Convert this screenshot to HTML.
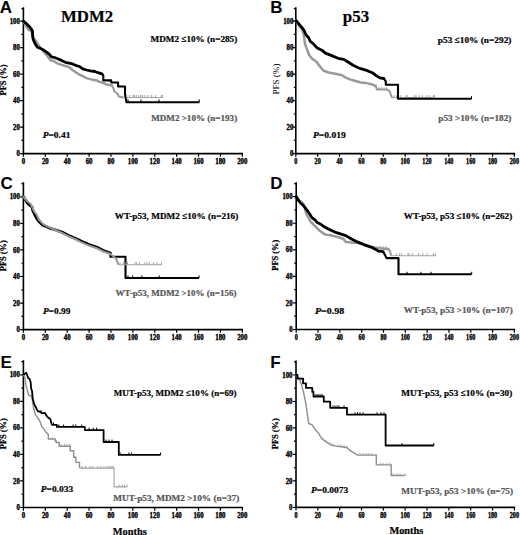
<!DOCTYPE html>
<html><head><meta charset="utf-8"><style>
html,body{margin:0;padding:0;background:#fff;}
svg{display:block;}
.ax{fill:none;stroke:#000;stroke-width:1.6;stroke-linecap:square;}
.tk{fill:none;stroke:#000;stroke-width:1.2;}
text{font-family:"Liberation Serif", serif;font-weight:bold;}
.yl{font-size:7.2px;text-anchor:end;stroke:#000;stroke-width:0.35px;}
.xl{font-size:7.2px;text-anchor:middle;stroke:#000;stroke-width:0.35px;}
.pl{font-family:"Liberation Sans", sans-serif;font-size:17px;}
.tt{font-size:16px;stroke:#000;stroke-width:0.2px;}
.lb{font-size:9px;fill:#000;stroke:#000;stroke-width:0.2px;}
.lg{font-size:9px;fill:#555;stroke:#555;stroke-width:0.2px;}
.pv{font-size:9px;stroke:#000;stroke-width:0.2px;}
.ylab{font-size:8px;text-anchor:middle;stroke:#000;stroke-width:0.25px;}
.ylabr{font-size:8px;text-anchor:middle;font-weight:normal;}
.mo{font-size:10px;stroke:#000;stroke-width:0.2px;}
.cb{fill:none;stroke:#000;stroke-width:2.1;stroke-linejoin:round;}
.cbs{fill:none;stroke:#000;stroke-width:2.8;stroke-linejoin:round;stroke-linecap:round;}
.cgs{fill:none;stroke:#9a9a9a;stroke-width:2.5;stroke-linejoin:round;stroke-linecap:round;}
.cgsC{fill:none;stroke:#9a9a9a;stroke-width:2.0;stroke-linejoin:round;stroke-linecap:round;}
.cb2{fill:none;stroke:#000;stroke-width:1.8;stroke-linejoin:round;}
.ct{fill:none;stroke:#000;stroke-width:1;}
.ctg{fill:none;stroke:#999;stroke-width:0.9;}
.cgt{fill:none;stroke:#8e8e8e;stroke-width:1.4;}
.cg{fill:none;stroke:#9a9a9a;stroke-width:2.0;stroke-linejoin:round;}
.cgd{fill:none;stroke:#a4a4a4;stroke-width:1.1;}
</style></head><body>
<svg width="520" height="535" viewBox="0 0 520 535">
<path d="M23.4 8V153.65H242.3" class="ax"/>
<path d="M20.2 153.65H23.4M21.4 140.41H23.4M20.2 127.16H23.4M21.4 113.91H23.4M20.2 100.67H23.4M21.4 87.42H23.4M20.2 74.18H23.4M21.4 60.93H23.4M20.2 47.69H23.4M21.4 34.44H23.4M20.2 21.2H23.4M21.4 8.6H23.4M23.4 153.65V156.85M45.29 153.65V156.85M67.18 153.65V156.85M89.07 153.65V156.85M110.96 153.65V156.85M132.85 153.65V156.85M154.74 153.65V156.85M176.63 153.65V156.85M198.52 153.65V156.85M220.41 153.65V156.85M242.3 153.65V156.85" class="tk"/>
<text transform="translate(19.9 156.25) scale(0.95 1)" class="yl">0</text>
<text transform="translate(19.9 129.76) scale(0.95 1)" class="yl">20</text>
<text transform="translate(19.9 103.27) scale(0.95 1)" class="yl">40</text>
<text transform="translate(19.9 76.78) scale(0.95 1)" class="yl">60</text>
<text transform="translate(19.9 50.29) scale(0.95 1)" class="yl">80</text>
<text transform="translate(19.9 23.8) scale(0.95 1)" class="yl">100</text>
<text transform="translate(23.4 163.75) scale(0.95 1)" class="xl">0</text>
<text transform="translate(45.29 163.75) scale(0.95 1)" class="xl">20</text>
<text transform="translate(67.18 163.75) scale(0.95 1)" class="xl">40</text>
<text transform="translate(89.07 163.75) scale(0.95 1)" class="xl">60</text>
<text transform="translate(110.96 163.75) scale(0.95 1)" class="xl">80</text>
<text transform="translate(132.85 163.75) scale(0.95 1)" class="xl">100</text>
<text transform="translate(154.74 163.75) scale(0.95 1)" class="xl">120</text>
<text transform="translate(176.63 163.75) scale(0.95 1)" class="xl">140</text>
<text transform="translate(198.52 163.75) scale(0.95 1)" class="xl">160</text>
<text transform="translate(220.41 163.75) scale(0.95 1)" class="xl">180</text>
<text transform="translate(242.3 163.75) scale(0.95 1)" class="xl">200</text>
<path d="M295.8 8V153.65H514.4" class="ax"/>
<path d="M292.6 153.65H295.8M293.8 140.4H295.8M292.6 127.14H295.8M293.8 113.88H295.8M292.6 100.63H295.8M293.8 87.38H295.8M292.6 74.12H295.8M293.8 60.87H295.8M292.6 47.61H295.8M293.8 34.35H295.8M292.6 21.1H295.8M293.8 8.6H295.8M295.8 153.65V156.85M317.66 153.65V156.85M339.52 153.65V156.85M361.38 153.65V156.85M383.24 153.65V156.85M405.1 153.65V156.85M426.96 153.65V156.85M448.82 153.65V156.85M470.68 153.65V156.85M492.54 153.65V156.85M514.4 153.65V156.85" class="tk"/>
<text transform="translate(293.4 156.25) scale(0.95 1)" class="yl">0</text>
<text transform="translate(293.4 129.74) scale(0.95 1)" class="yl">20</text>
<text transform="translate(293.4 103.23) scale(0.95 1)" class="yl">40</text>
<text transform="translate(293.4 76.72) scale(0.95 1)" class="yl">60</text>
<text transform="translate(293.4 50.21) scale(0.95 1)" class="yl">80</text>
<text transform="translate(293.4 23.7) scale(0.95 1)" class="yl">100</text>
<text transform="translate(295.8 163.75) scale(0.86 1)" class="xl">0</text>
<text transform="translate(317.66 163.75) scale(0.86 1)" class="xl">20</text>
<text transform="translate(339.52 163.75) scale(0.86 1)" class="xl">40</text>
<text transform="translate(361.38 163.75) scale(0.86 1)" class="xl">60</text>
<text transform="translate(383.24 163.75) scale(0.86 1)" class="xl">80</text>
<text transform="translate(405.1 163.75) scale(0.86 1)" class="xl">100</text>
<text transform="translate(426.96 163.75) scale(0.86 1)" class="xl">120</text>
<text transform="translate(448.82 163.75) scale(0.86 1)" class="xl">140</text>
<text transform="translate(470.68 163.75) scale(0.86 1)" class="xl">160</text>
<text transform="translate(492.54 163.75) scale(0.86 1)" class="xl">180</text>
<text transform="translate(514.4 163.75) scale(0.86 1)" class="xl">200</text>
<path d="M23.4 183V329.65H242.3" class="ax"/>
<path d="M20.2 329.65H23.4M21.4 316.37H23.4M20.2 303.08H23.4M21.4 289.79H23.4M20.2 276.51H23.4M21.4 263.23H23.4M20.2 249.94H23.4M21.4 236.66H23.4M20.2 223.37H23.4M21.4 210.09H23.4M20.2 196.8H23.4M21.4 183.6H23.4M23.4 329.65V332.85M45.29 329.65V332.85M67.18 329.65V332.85M89.07 329.65V332.85M110.96 329.65V332.85M132.85 329.65V332.85M154.74 329.65V332.85M176.63 329.65V332.85M198.52 329.65V332.85M220.41 329.65V332.85M242.3 329.65V332.85" class="tk"/>
<text transform="translate(19.9 332.25) scale(0.95 1)" class="yl">0</text>
<text transform="translate(19.9 305.68) scale(0.95 1)" class="yl">20</text>
<text transform="translate(19.9 279.11) scale(0.95 1)" class="yl">40</text>
<text transform="translate(19.9 252.54) scale(0.95 1)" class="yl">60</text>
<text transform="translate(19.9 225.97) scale(0.95 1)" class="yl">80</text>
<text transform="translate(19.9 199.4) scale(0.95 1)" class="yl">100</text>
<text transform="translate(23.4 339.75) scale(0.95 1)" class="xl">0</text>
<text transform="translate(45.29 339.75) scale(0.95 1)" class="xl">20</text>
<text transform="translate(67.18 339.75) scale(0.95 1)" class="xl">40</text>
<text transform="translate(89.07 339.75) scale(0.95 1)" class="xl">60</text>
<text transform="translate(110.96 339.75) scale(0.95 1)" class="xl">80</text>
<text transform="translate(132.85 339.75) scale(0.95 1)" class="xl">100</text>
<text transform="translate(154.74 339.75) scale(0.95 1)" class="xl">120</text>
<text transform="translate(176.63 339.75) scale(0.95 1)" class="xl">140</text>
<text transform="translate(198.52 339.75) scale(0.95 1)" class="xl">160</text>
<text transform="translate(220.41 339.75) scale(0.95 1)" class="xl">180</text>
<text transform="translate(242.3 339.75) scale(0.95 1)" class="xl">200</text>
<path d="M296.2 183V329.5H514.4" class="ax"/>
<path d="M293 329.5H296.2M294.2 316.22H296.2M293 302.94H296.2M294.2 289.66H296.2M293 276.38H296.2M294.2 263.1H296.2M293 249.82H296.2M294.2 236.54H296.2M293 223.26H296.2M294.2 209.98H296.2M293 196.7H296.2M294.2 183.6H296.2M296.2 329.5V332.7M318.02 329.5V332.7M339.84 329.5V332.7M361.66 329.5V332.7M383.48 329.5V332.7M405.3 329.5V332.7M427.12 329.5V332.7M448.94 329.5V332.7M470.76 329.5V332.7M492.58 329.5V332.7M514.4 329.5V332.7" class="tk"/>
<text transform="translate(292.7 332.1) scale(0.95 1)" class="yl">0</text>
<text transform="translate(292.7 305.54) scale(0.95 1)" class="yl">20</text>
<text transform="translate(292.7 278.98) scale(0.95 1)" class="yl">40</text>
<text transform="translate(292.7 252.42) scale(0.95 1)" class="yl">60</text>
<text transform="translate(292.7 225.86) scale(0.95 1)" class="yl">80</text>
<text transform="translate(292.7 199.3) scale(0.95 1)" class="yl">100</text>
<text transform="translate(296.2 339.6) scale(0.86 1)" class="xl">0</text>
<text transform="translate(318.02 339.6) scale(0.86 1)" class="xl">20</text>
<text transform="translate(339.84 339.6) scale(0.86 1)" class="xl">40</text>
<text transform="translate(361.66 339.6) scale(0.86 1)" class="xl">60</text>
<text transform="translate(383.48 339.6) scale(0.86 1)" class="xl">80</text>
<text transform="translate(405.3 339.6) scale(0.86 1)" class="xl">100</text>
<text transform="translate(427.12 339.6) scale(0.86 1)" class="xl">120</text>
<text transform="translate(448.94 339.6) scale(0.86 1)" class="xl">140</text>
<text transform="translate(470.76 339.6) scale(0.86 1)" class="xl">160</text>
<text transform="translate(492.58 339.6) scale(0.86 1)" class="xl">180</text>
<text transform="translate(514.4 339.6) scale(0.86 1)" class="xl">200</text>
<path d="M23.4 361V507.5H242.3" class="ax"/>
<path d="M20.2 507.5H23.4M21.4 494.23H23.4M20.2 480.96H23.4M21.4 467.69H23.4M20.2 454.42H23.4M21.4 441.15H23.4M20.2 427.88H23.4M21.4 414.61H23.4M20.2 401.34H23.4M21.4 388.07H23.4M20.2 374.8H23.4M21.4 361.6H23.4M23.4 507.5V510.7M45.29 507.5V510.7M67.18 507.5V510.7M89.07 507.5V510.7M110.96 507.5V510.7M132.85 507.5V510.7M154.74 507.5V510.7M176.63 507.5V510.7M198.52 507.5V510.7M220.41 507.5V510.7M242.3 507.5V510.7" class="tk"/>
<text transform="translate(19.9 510.1) scale(0.95 1)" class="yl">0</text>
<text transform="translate(19.9 483.56) scale(0.95 1)" class="yl">20</text>
<text transform="translate(19.9 457.02) scale(0.95 1)" class="yl">40</text>
<text transform="translate(19.9 430.48) scale(0.95 1)" class="yl">60</text>
<text transform="translate(19.9 403.94) scale(0.95 1)" class="yl">80</text>
<text transform="translate(19.9 377.4) scale(0.95 1)" class="yl">100</text>
<text transform="translate(23.4 517.6) scale(0.95 1)" class="xl">0</text>
<text transform="translate(45.29 517.6) scale(0.95 1)" class="xl">20</text>
<text transform="translate(67.18 517.6) scale(0.95 1)" class="xl">40</text>
<text transform="translate(89.07 517.6) scale(0.95 1)" class="xl">60</text>
<text transform="translate(110.96 517.6) scale(0.95 1)" class="xl">80</text>
<text transform="translate(132.85 517.6) scale(0.95 1)" class="xl">100</text>
<text transform="translate(154.74 517.6) scale(0.95 1)" class="xl">120</text>
<text transform="translate(176.63 517.6) scale(0.95 1)" class="xl">140</text>
<text transform="translate(198.52 517.6) scale(0.95 1)" class="xl">160</text>
<text transform="translate(220.41 517.6) scale(0.95 1)" class="xl">180</text>
<text transform="translate(242.3 517.6) scale(0.95 1)" class="xl">200</text>
<path d="M296 361.2V507.4H514.4" class="ax"/>
<path d="M292.8 507.4H296M294 494.16H296M292.8 480.92H296M294 467.68H296M292.8 454.44H296M294 441.2H296M292.8 427.96H296M294 414.72H296M292.8 401.48H296M294 388.24H296M292.8 375H296M294 361.8H296M296 507.4V510.6M317.84 507.4V510.6M339.68 507.4V510.6M361.52 507.4V510.6M383.36 507.4V510.6M405.2 507.4V510.6M427.04 507.4V510.6M448.88 507.4V510.6M470.72 507.4V510.6M492.56 507.4V510.6M514.4 507.4V510.6" class="tk"/>
<text transform="translate(292.5 510) scale(0.95 1)" class="yl">0</text>
<text transform="translate(292.5 483.52) scale(0.95 1)" class="yl">20</text>
<text transform="translate(292.5 457.04) scale(0.95 1)" class="yl">40</text>
<text transform="translate(292.5 430.56) scale(0.95 1)" class="yl">60</text>
<text transform="translate(292.5 404.08) scale(0.95 1)" class="yl">80</text>
<text transform="translate(292.5 377.6) scale(0.95 1)" class="yl">100</text>
<text transform="translate(296 517.5) scale(0.86 1)" class="xl">0</text>
<text transform="translate(317.84 517.5) scale(0.86 1)" class="xl">20</text>
<text transform="translate(339.68 517.5) scale(0.86 1)" class="xl">40</text>
<text transform="translate(361.52 517.5) scale(0.86 1)" class="xl">60</text>
<text transform="translate(383.36 517.5) scale(0.86 1)" class="xl">80</text>
<text transform="translate(405.2 517.5) scale(0.86 1)" class="xl">100</text>
<text transform="translate(427.04 517.5) scale(0.86 1)" class="xl">120</text>
<text transform="translate(448.88 517.5) scale(0.86 1)" class="xl">140</text>
<text transform="translate(470.72 517.5) scale(0.86 1)" class="xl">160</text>
<text transform="translate(492.56 517.5) scale(0.86 1)" class="xl">180</text>
<text transform="translate(514.4 517.5) scale(0.86 1)" class="xl">200</text>
<text x="-0.2" y="12.6" class="pl">A</text>
<text x="270.3" y="12.6" class="pl">B</text>
<text x="0.4" y="189.2" class="pl">C</text>
<text x="270.3" y="189.2" class="pl">D</text>
<text x="0.4" y="367.8" class="pl">E</text>
<text x="270.3" y="367.8" class="pl">F</text>
<text x="61" y="21.7" class="tt" textLength="52.2" lengthAdjust="spacingAndGlyphs">MDM2</text>
<text x="342.8" y="21.6" class="tt" textLength="26.3" lengthAdjust="spacingAndGlyphs">p53</text>
<text x="150.6" y="42.4" class="lb" textLength="86.6" lengthAdjust="spacingAndGlyphs">MDM2 &#8804;10% (n=285)</text>
<text x="151.2" y="121.3" class="lg" textLength="86" lengthAdjust="spacingAndGlyphs">MDM2 &gt;10% (n=193)</text>
<text x="437.8" y="42.8" class="lb" textLength="73.6" lengthAdjust="spacingAndGlyphs">p53 &#8804;10% (n=292)</text>
<text x="438.3" y="121.4" class="lg" textLength="73.1" lengthAdjust="spacingAndGlyphs">p53 &gt;10% (n=182)</text>
<text x="114.7" y="218.5" class="lb" textLength="123.6" lengthAdjust="spacingAndGlyphs">WT-p53, MDM2 &#8804;10% (n=216)</text>
<text x="115.5" y="296.4" class="lg" textLength="120.9" lengthAdjust="spacingAndGlyphs">WT-p53, MDM2 &gt;10% (n=156)</text>
<text x="403.75" y="218.75" class="lb" textLength="108.5" lengthAdjust="spacingAndGlyphs">WT-p53, p53 &#8804;10% (n=262)</text>
<text x="403.75" y="313" class="lg" textLength="109" lengthAdjust="spacingAndGlyphs">WT-p53, p53 &gt;10% (n=107)</text>
<text x="113.65" y="396" class="lb" textLength="122.8" lengthAdjust="spacingAndGlyphs">MUT-p53, MDM2 &#8804;10% (n=69)</text>
<text x="113.3" y="500.6" class="lg" textLength="126" lengthAdjust="spacingAndGlyphs">MUT-p53, MDM2 &gt;10% (n=37)</text>
<text x="401.25" y="396.25" class="lb" textLength="111" lengthAdjust="spacingAndGlyphs">MUT-p53, p53 &#8804;10% (n=30)</text>
<text x="401.25" y="493.75" class="lg" textLength="111.75" lengthAdjust="spacingAndGlyphs">MUT-p53, p53 &gt;10% (n=75)</text>
<text x="42.7" y="138" class="pv" textLength="27.7" lengthAdjust="spacingAndGlyphs"><tspan font-style="italic">P</tspan>=0.41</text>
<text x="312.9" y="138" class="pv" textLength="32.9" lengthAdjust="spacingAndGlyphs"><tspan font-style="italic">P</tspan>=0.019</text>
<text x="42.9" y="313.7" class="pv" textLength="27.5" lengthAdjust="spacingAndGlyphs"><tspan font-style="italic">P</tspan>=0.99</text>
<text x="315" y="313.5" class="pv" textLength="29.2" lengthAdjust="spacingAndGlyphs"><tspan font-style="italic">P</tspan>=0.98</text>
<text x="40.8" y="491.8" class="pv" textLength="32.3" lengthAdjust="spacingAndGlyphs"><tspan font-style="italic">P</tspan>=0.033</text>
<text x="311" y="492.6" class="pv" textLength="37.3" lengthAdjust="spacingAndGlyphs"><tspan font-style="italic">P</tspan>=0.0073</text>
<text transform="translate(5.6 79.9) rotate(-90)" x="0" y="0" class="ylab" textLength="31" lengthAdjust="spacingAndGlyphs">PFS (%)</text>
<text transform="translate(279 79.1) rotate(-90)" x="0" y="0" class="ylabr" textLength="31" lengthAdjust="spacingAndGlyphs">PFS (%)</text>
<text transform="translate(5.6 255.7) rotate(-90)" x="0" y="0" class="ylab" textLength="31" lengthAdjust="spacingAndGlyphs">PFS (%)</text>
<text transform="translate(278.4 255.2) rotate(-90)" x="0" y="0" class="ylab" textLength="31" lengthAdjust="spacingAndGlyphs">PFS (%)</text>
<text transform="translate(5.6 433.7) rotate(-90)" x="0" y="0" class="ylab" textLength="31" lengthAdjust="spacingAndGlyphs">PFS (%)</text>
<text transform="translate(278.4 433.7) rotate(-90)" x="0" y="0" class="ylab" textLength="31" lengthAdjust="spacingAndGlyphs">PFS (%)</text>
<text x="112.8" y="534.6" class="mo" textLength="34" lengthAdjust="spacingAndGlyphs">Months</text>
<text x="389.4" y="534.4" class="mo" textLength="34" lengthAdjust="spacingAndGlyphs">Months</text>
<path d="M23.4 21.1L26.2 26.4L28.6 30.0L31.0 31.2L32.5 32.4L32.8 37.7L34.6 39.5L36.4 41.3L37.6 43.7L40.0 47.3L42.3 50.0L45.4 53.6L48.5 57.5L50.8 60.5L53.8 61.0L56.2 62.8L60.0 64.4L64.6 65.8L68.5 66.9L70.8 68.5L73.1 70.5L78.1 73.8L82.7 76.2L86.5 78.1L91.9 79.6L96.5 80.4L99.6 81.9L102.7 82.7L105.8 84.2L109.6 85.0L111.9 85.4" class="cgs"/>
<path d="M111.9 85.4L113.5 88.5L114.2 91.2L117.3 93.5L118.8 96.5L123.5 97.5" class="cg"/>
<path d="M123.5 97.5L162.3 97.5" class="cgd"/>
<path d="M23.4 21.1L26.8 24.0L29.2 26.4L31.6 29.4L32.5 31.2L32.5 34.7L33.1 38.9L34.3 41.9L35.8 44.9L37.6 47.3L39.9 48.2L42.9 49.6L46.9 52.3L49.2 54.2L51.5 56.9L53.8 57.3L57.7 58.8L61.5 60.4L65.4 62.3L69.2 63.1L73.1 64.2L76.9 65.8L79.6 66.5L82.7 68.8L86.5 70.0L90.4 70.8L95.0 71.5L98.1 72.7L101.9 73.8" class="cbs"/>
<path d="M101.9 73.8L103.3 75.4L103.3 80.4L111.2 80.4L111.2 82.5L118.1 82.5L118.1 86.5L125.0 86.5L125.0 94.0L126.5 102.2L199.4 102.2" class="cb"/>
<path d="M126.7 97.5V94.9M129.6 97.5V94.9M133.0 97.5V94.9M134.4 97.5V94.9M136.3 97.5V94.9M138.8 97.5V94.9M140.7 97.5V94.9M142.6 97.5V94.9M145.0 97.5V94.9M147.9 97.5V94.9M151.7 97.5V94.9M155.6 97.5V94.9M161.3 97.5V94.9M162.3 97.5V94.9" class="ctg"/>
<path d="M128.0 102.2V99.4M141.0 102.2V99.4M159.0 102.2V99.4M199.2 102.2V99.4" class="ct"/>
<path d="M296.0 20.5L299.6 26.5L301.9 29.5L303.5 33.4L304.2 38.0L305.1 44.2L307.1 49.6L309.1 55.0L311.8 58.4L316.5 61.7L319.9 66.4L323.3 70.5L328.6 72.5L335.4 73.8L342.1 75.2L346.1 77.9L350.7 79.6L356.5 81.3L360.8 82.5L366.5 83.1L371.1 84.2L375.8 86.0" class="cgs"/>
<path d="M375.8 86.0L376.9 89.6L387.3 89.6L389.6 91.1L390.8 94.6L391.9 97.6" class="cg"/>
<path d="M391.9 97.6L434.3 97.6" class="cgd"/>
<path d="M296.0 20.5L299.6 24.9L302.7 28.4L304.2 30.7L305.8 34.5L308.8 38.0L310.4 41.5L313.5 43.8L315.8 46.5L317.3 47.9L321.9 50.2L325.4 53.1L331.1 55.4L338.1 58.3L343.8 59.4L348.4 62.3L353.1 65.2L357.7 67.5L360.8 68.7L366.5 70.4L372.3 72.7L376.9 76.1L379.8 77.9L383.8 78.5" class="cbs"/>
<path d="M383.8 78.5L385.8 81.3L385.8 84.8L398.0 84.8L398.0 98.8L471.5 98.8" class="cb"/>
<path d="M379.0 89.6V87.2M381.5 89.6V87.2M384.0 89.6V87.2M386.5 89.6V87.2M394.0 97.6V95.2M396.5 97.6V95.2M400.6 97.6V95.2M405.8 97.6V95.2M407.5 97.6V95.2M414.4 97.6V95.2M416.1 97.6V95.2M419.6 97.6V95.2M422.2 97.6V95.2M426.5 97.6V95.2M429.1 97.6V95.2M433.4 97.6V95.2M434.3 97.6V95.2" class="ctg"/>
<path d="M471.5 98.8V96.2" class="ct"/>
<path d="M23.4 196.8L25.1 199.2L27.4 203.0L29.7 205.3L32.0 206.8L32.8 210.7L34.3 213.8L36.6 218.4L38.9 221.5L42.8 225.3L46.6 226.8L50.5 228.4L54.3 229.5L61.9 232.1L68.8 235.6L75.8 238.5L81.5 241.3L89.6 244.8L96.5 247.1L103.4 250.6L110.4 253.0" class="cbs"/>
<path d="M110.4 253.0L110.4 256.8L125.5 256.8L125.5 278.0L199.0 278.0" class="cb"/>
<path d="M23.4 196.8L26.6 200.7L30.5 203.8L32.4 207.6L34.3 211.5L36.6 214.5L38.9 219.5L42.8 223.8L46.6 226.0L50.5 227.8L54.3 229.5L61.9 233.0L68.8 236.3L75.8 239.5L81.5 242.3L89.6 245.8L96.5 248.1L103.4 251.5L110.4 254.0" class="cgsC"/>
<path d="M110.4 254.0L116.5 259.0L118.3 264.8" class="cg"/>
<path d="M118.3 264.8L161.5 264.8" class="cgd"/>
<path d="M120.0 264.8V262.2M123.5 264.8V262.2M125.2 264.8V262.2M127.5 264.8V262.2M135.0 264.8V262.2M136.7 264.8V262.2M139.6 264.8V262.2M144.8 264.8V262.2M147.1 264.8V262.2M149.4 264.8V262.2M153.4 264.8V262.2M156.9 264.8V262.2M161.5 264.8V262.2" class="ctg"/>
<path d="M128.0 278.0V275.4M132.7 278.0V275.4M141.9 278.0V275.4M159.2 278.0V275.4M199.0 278.0V275.4" class="ct"/>
<path d="M296.3 196.7L298.8 199.9L301.9 202.2L303.8 204.5L305.0 208.4L306.2 213.8L308.1 216.8L310.4 221.5L313.5 224.5L316.5 227.6L319.6 230.7L325.0 234.4L331.9 235.6L338.8 237.3L343.5 239.0L345.8 241.9L351.5 242.5L358.4 243.0L365.4 244.8L372.3 247.1L379.2 248.3L387.7 249.0" class="cgs"/>
<path d="M387.7 249.0L390.0 251.1L391.1 255.8" class="cg"/>
<path d="M391.1 255.8L435.4 255.8" class="cgd"/>
<path d="M296.3 196.7L298.1 199.9L300.4 203.0L302.7 204.9L305.0 207.6L307.3 210.7L309.6 213.8L311.9 217.6L315.0 219.9L317.3 222.6L321.2 224.5L324.2 226.8L328.8 229.2L336.5 232.7L345.8 235.6L351.5 239.0L357.3 241.9L364.2 244.8L371.1 247.1L375.7 249.4L378.5 251.1L383.1 251.7" class="cbs"/>
<path d="M383.1 251.7L385.4 255.8L386.5 258.1L398.5 258.1L398.5 274.2L471.7 274.2" class="cb"/>
<path d="M380.0 248.4V245.8M383.0 248.6V246.0M386.0 248.9V246.3M389.0 250.2V247.6M396.4 255.8V253.2M399.6 255.8V253.2M401.7 255.8V253.2M408.0 255.8V253.2M409.1 255.8V253.2M412.3 255.8V253.2M418.6 255.8V253.2M422.9 255.8V253.2M427.0 255.8V253.2M433.4 255.8V253.2M435.4 255.8V253.2" class="ctg"/>
<path d="M407.0 274.2V271.8M421.0 274.2V271.8M431.0 274.2V271.8M471.7 274.2V271.8" class="ct"/>
<path d="M23.4 375.0L24.9 377.2L25.8 384.4L27.3 390.2L28.7 395.5L31.6 396.0L32.6 401.7L33.5 407.5L35.4 414.8L37.4 417.5L39.6 420.6L41.9 426.9L43.7 428.7L45.4 431.5L48.3 434.4L48.3 439.0L55.2 439.0L55.2 441.0L56.3 441.0L56.3 442.5L59.2 442.5L59.2 446.3L70.1 446.3L70.1 450.8L73.7 450.8L73.7 457.3L75.9 457.3L75.9 462.4L79.5 462.4L79.5 468.1" class="cgt"/>
<path d="M79.5 468.1L114.1 468.1L114.1 486.9L127.1 486.9" class="cgd"/>
<path d="M23.4 374.8L26.3 372.8L28.3 378.2L29.7 379.1L30.7 382.5L31.1 388.3L32.1 391.2L32.6 397.9L34.0 403.7L36.4 408.5L37.9 411.3L39.4 411.4L42.1 413.3L44.8 412.8L46.8 416.2L48.8 418.2L50.2 418.8L51.5 423.6L52.2 424.9L56.9 424.9L56.9 426.9L84.8 426.9L84.8 430.1L103.6 430.1L103.6 442.0L118.8 442.0L118.8 454.9L160.6 454.9" class="cb2"/>
<path d="M41.0 412.5V410.1M53.5 424.9V422.5M58.9 426.9V424.5M63.6 426.9V424.5M73.0 426.9V424.5M75.8 426.9V424.5M81.8 426.9V424.5M89.2 430.1V427.7M93.3 430.1V427.7M96.6 430.1V427.7M106.0 442.0V439.6M109.0 442.0V439.6M112.0 442.0V439.6M120.2 454.9V452.5M128.9 454.9V452.5M131.6 454.9V452.5M160.6 454.9V452.5" class="ct"/>
<path d="M52.3 439.0V436.8M61.0 446.3V444.1M64.5 446.3V444.1M67.0 446.3V444.1M69.5 446.3V444.1M82.0 468.1V465.9M85.5 468.1V465.9M90.0 468.1V465.9M93.0 468.1V465.9M98.0 468.1V465.9M101.0 468.1V465.9M104.0 468.1V465.9M107.0 468.1V465.9M109.0 468.1V465.9M111.0 468.1V465.9M113.0 468.1V465.9M119.0 486.9V484.7M122.0 486.9V484.7M124.5 486.9V484.7M127.1 486.9V484.7" class="ctg"/>
<path d="M296.0 375.0L299.6 379.2L301.9 386.1L303.7 393.1L305.4 401.1L306.5 408.1L307.5 415.4L308.7 423.5L312.1 424.8L314.8 428.8L318.8 433.6L321.5 438.3L325.6 441.6L331.0 445.0L336.3 446.1L343.1 447.0L347.1 447.7L349.8 450.4L353.8 452.8L357.9 455.1L376.3 455.1L376.3 464.9L391.2 464.9L391.2 475.5L405.1 475.5" class="cgt"/>
<path d="M296.0 375.0L297.5 375.0L297.5 378.6L303.1 378.6L303.1 383.3L306.0 383.3L306.0 387.9L312.3 387.9L312.3 391.9L313.5 391.9L313.5 396.5L323.8 396.5L323.8 401.7L330.2 401.7L330.2 407.8L347.0 407.8L347.0 414.7L385.6 414.7L385.6 445.5L433.8 445.5" class="cb2"/>
<path d="M316.0 396.5V394.1M318.0 396.5V394.1M320.0 396.5V394.1M322.0 396.5V394.1M333.0 407.8V405.4M335.0 407.8V405.4M337.0 407.8V405.4M339.0 407.8V405.4M344.0 407.8V405.4M355.0 414.7V412.3M357.5 414.7V412.3M360.0 414.7V412.3M363.0 414.7V412.3M377.0 414.7V412.3M381.0 414.7V412.3M384.0 414.7V412.3M402.0 445.5V443.1M433.8 445.5V443.1" class="ct"/>
<path d="M323.0 439.5V437.4M326.0 441.9V439.8M330.0 444.4V442.3M333.0 445.4V443.3M338.0 446.3V444.2M341.0 446.7V444.6M344.0 447.2V445.1M347.0 447.7V445.6M360.0 455.1V453.0M363.0 455.1V453.0M366.0 455.1V453.0M369.0 455.1V453.0M372.0 455.1V453.0M380.0 464.9V462.8M383.0 464.9V462.8M387.0 464.9V462.8M390.0 464.9V462.8M393.0 475.5V473.4M397.0 475.5V473.4M400.0 475.5V473.4M405.1 475.5V473.4" class="ctg"/>
</svg>
</body></html>
